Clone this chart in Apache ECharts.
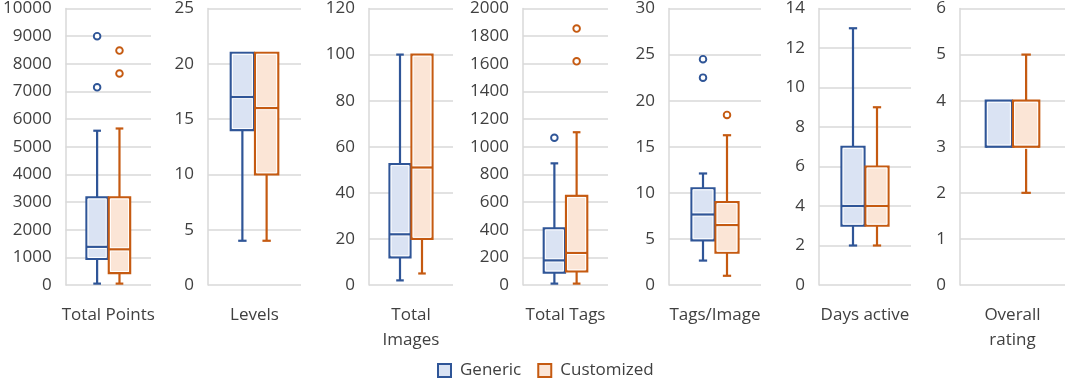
<!DOCTYPE html>
<html>
<head>
<meta charset="utf-8">
<script src="https://cdn.jsdelivr.net/npm/echarts@6/dist/echarts.min.js"></script>
<style>
html,body{margin:0;padding:0;background:#fff;}
#chart{width:1081px;height:379px;}
</style>
</head>
<body>
<div id="chart"></div>
<script>
// ---- data ----
const categories = ['Total Points', 'Levels', 'Total\nImages', 'Total Tags', 'Tags/Image', 'Days active', 'Overall\nrating'];
const yMax = [10000, 25, 120, 2000, 30, 14, 6];
const yInterval = [1000, 5, 20, 200, 5, 2, 1];
// [min, q1, median, q3, max]
const genericBox = [
  [50, 940, 1380, 3170, 5580],
  [4, 14, 17, 21, 21],
  [2, 12, 22, 52.5, 100],
  [10, 90, 178, 410, 880],
  [2.65, 4.85, 7.65, 10.5, 12.1],
  [2, 3, 4, 7, 13],
  [3, 3, 3, 4, 4]
];
const customizedBox = [
  [50, 430, 1290, 3170, 5660],
  [4, 10, 16, 21, 21],
  [5, 20, 51, 100, 100],
  [10, 98, 232, 645, 1105],
  [1, 3.5, 6.5, 9, 16.25],
  [2, 3, 4, 6, 9],
  [2, 3, 3, 4, 5]
];
const genericOutliers = [[9000, 7150], [], [], [1065], [24.5, 22.5], [], []];
const customizedOutliers = [[8480, 7650], [], [], [1855, 1618], [18.45], [], []];

// ---- layout / style ----
const gridLeft = [60, 208, 369, 523, 669, 819, 960];
const gridWidth = [91, 93, 84, 85, 92, 92, 105];
const styles = {
  Generic: { stroke: '#2f5597', fill: '#dae3f3', side: -1 },
  Customized: { stroke: '#c55a11', fill: '#fbe5d6', side: 1 }
};
const FONT = 'Open Sans';
const TXT = '#404040';
const GRIDC = '#d9d9d9';
const BOXFRAC = 0.25;

function boxRenderer(st) {
  return function (params, api) {
    const band = api.size([1, 0])[0];
    const bw = band * BOXFRAC;
    const c0 = api.coord([api.value(0), 0])[0];
    const cx = c0 + st.side * (bw / 2 + 0.5);
    const y = k => api.coord([api.value(0), api.value(k)])[1];
    const pMin = y(1), pQ1 = y(2), pMed = y(3), pQ3 = y(4), pMax = y(5);
    const capW = bw * 0.36;
    const lineStyle = { stroke: st.stroke, lineWidth: 2.2, fill: null };
    const children = [];
    if (Math.abs(pMax - pQ3) > 0.5) {
      children.push({ type: 'line', shape: { x1: cx, y1: pQ3, x2: cx, y2: pMax }, style: lineStyle });
      children.push({ type: 'line', shape: { x1: cx - capW / 2, y1: pMax, x2: cx + capW / 2, y2: pMax }, style: lineStyle });
    }
    if (Math.abs(pMin - pQ1) > 0.5) {
      children.push({ type: 'line', shape: { x1: cx, y1: pQ1, x2: cx, y2: pMin }, style: lineStyle });
      children.push({ type: 'line', shape: { x1: cx - capW / 2, y1: pMin, x2: cx + capW / 2, y2: pMin }, style: lineStyle });
    }
    const x0 = cx - bw / 2;
    children.push({ type: 'rect', shape: { x: x0, y: pQ3, width: bw, height: pQ1 - pQ3 }, style: { fill: st.fill, stroke: st.stroke, lineWidth: 2.2 } });
    children.push({ type: 'rect', shape: { x: x0 + 1.6, y: pQ3 + 1.6, width: bw - 3.2, height: pQ1 - pQ3 - 3.2 }, style: { fill: null, stroke: '#ffffff', lineWidth: 1 } });
    children.push({ type: 'line', shape: { x1: x0 + 1.6, y1: pMed, x2: x0 + bw - 1.6, y2: pMed }, style: { stroke: '#ffffff', lineWidth: 4.2 } });
    children.push({ type: 'line', shape: { x1: x0, y1: pMed, x2: x0 + bw, y2: pMed }, style: lineStyle });
    return { type: 'group', children: children };
  };
}

function outlierRenderer(st) {
  return function (params, api) {
    const band = api.size([1, 0])[0];
    const bw = band * BOXFRAC;
    const pt = api.coord([api.value(0), api.value(1)]);
    const cx = pt[0] + st.side * (bw / 2 + 0.5);
    return { type: 'circle', shape: { cx: cx, cy: pt[1], r: 3.3 }, style: { fill: '#ffffff', stroke: st.stroke, lineWidth: 1.9 } };
  };
}

const grids = [], xAxes = [], yAxes = [], series = [];
categories.forEach((cat, i) => {
  grids.push({ left: gridLeft[i], width: gridWidth[i], top: 8, bottom: 94, containLabel: false });
  xAxes.push({
    type: 'category', gridIndex: i, data: [cat],
    axisLine: { show: false }, axisTick: { show: false }, splitLine: { show: false },
    axisLabel: { fontFamily: FONT, fontSize: 17, color: TXT, margin: 18, lineHeight: 25, interval: 0 }
  });
  yAxes.push({
    type: 'value', gridIndex: i, min: 0, max: yMax[i], interval: yInterval[i],
    axisLine: { show: true, lineStyle: { color: GRIDC, width: 1.5 } },
    axisTick: { show: false },
    splitLine: { show: true, lineStyle: { color: GRIDC, width: 1.5 } },
    axisLabel: { fontFamily: FONT, fontSize: 17, color: TXT, margin: 14, formatter: v => String(v) }
  });
  [['Generic', genericBox, genericOutliers], ['Customized', customizedBox, customizedOutliers]].forEach(([name, boxes, outs]) => {
    const st = styles[name];
    series.push({
      name: name, type: 'custom', xAxisIndex: i, yAxisIndex: i,
      renderItem: boxRenderer(st),
      itemStyle: { color: st.fill, borderColor: st.stroke },
      encode: { x: 0, y: [1, 2, 3, 4, 5] },
      data: [[0].concat(boxes[i])],
      silent: true
    });
    if (outs[i].length) {
      series.push({
        name: name, type: 'custom', xAxisIndex: i, yAxisIndex: i,
        renderItem: outlierRenderer(st),
        itemStyle: { color: st.fill, borderColor: st.stroke },
        encode: { x: 0, y: 1 },
        data: outs[i].map(v => [0, v]),
        silent: true
      });
    }
  });
});

const chart = echarts.init(document.getElementById('chart'), null, { renderer: 'canvas' });
chart.setOption({
  animation: false,
  backgroundColor: '#ffffff',
  grid: grids,
  xAxis: xAxes,
  yAxis: yAxes,
  legend: {
    left: 432, top: 357,
    itemWidth: 13, itemHeight: 13, itemGap: 16,
    selectedMode: false,
    textStyle: { fontFamily: FONT, fontSize: 17, color: TXT, padding: [0, 0, 0, 4] },
    data: [
      { name: 'Generic', icon: 'rect', itemStyle: { color: styles.Generic.fill, borderColor: styles.Generic.stroke, borderWidth: 2 } },
      { name: 'Customized', icon: 'rect', itemStyle: { color: styles.Customized.fill, borderColor: styles.Customized.stroke, borderWidth: 2 } }
    ]
  },
  series: series
});
</script>
</body>
</html>
